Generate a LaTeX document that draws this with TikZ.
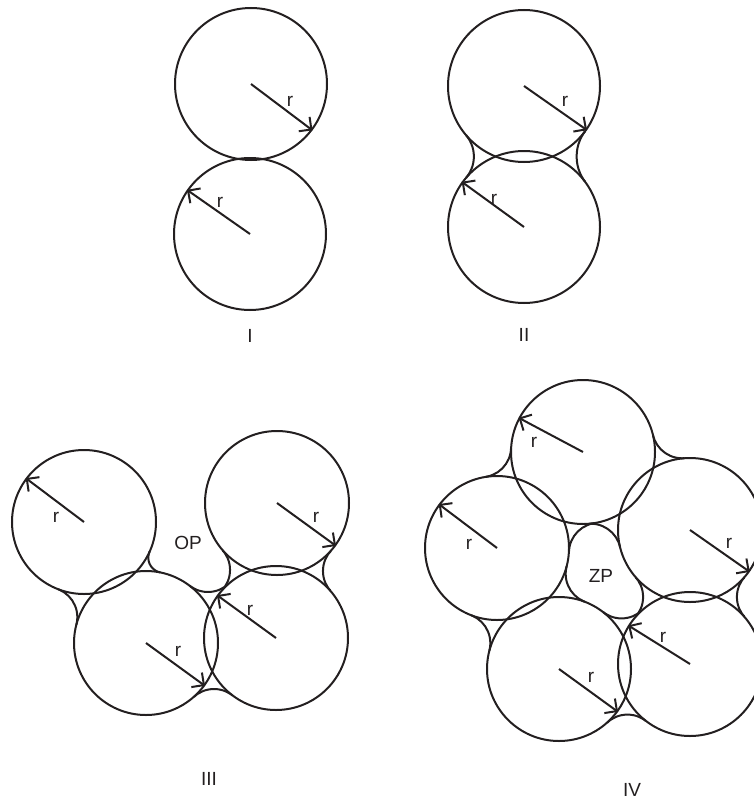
\documentclass[tikz,border=0pt]{standalone}
\usepackage{fontspec}
\setmainfont{Liberation Sans}
\usetikzlibrary{arrows.meta}
\usetikzlibrary{calc}

\definecolor{ink}{RGB}{35,31,32}
\def\bigr{76}
% concave bridge between two touching balls: #1,#2 balls, #3 radius, #4 side (1 or -1)
\newcommand\bridge[4]{%
	\path let \p1=(#1.center), \p2=(#2.center),
		\n1={veclen(\x2-(\x1),\y2-(\y1))},
		\n2={sqrt((\bigr+#3-\n1/2)*(\bigr+#3+\n1/2))} in
		coordinate (fc) at ({(\x1+\x2)/2-(#4)*\n2/\n1*(\y2-(\y1))},
		                    {(\y1+\y2)/2+(#4)*\n2/\n1*(\x2-(\x1))});
	\begin{scope}
		\clip (#1.center) -- (#2.center) -- (fc) -- cycle;
		\draw (fc) circle[radius=#3pt];
	\end{scope}}

\begin{document}
\begin{tikzpicture}[x=1pt, y=-1pt, line width=2pt, color=ink,
	ball/.style={draw, circle, inner sep=0pt, minimum size={2pt*\bigr}},
	rad/.style={-{Straight Barb[length=9pt, width=18pt]}},
	lab/.style={font=\fontsize{19}{21}\selectfont, inner sep=0pt}]
	\useasboundingbox (0,0) rectangle (754,800);
	% I
	\def\bigr{76}
	\node[ball] (a1) at (251,84) {};
	\node[ball] (a2) at (250,234) {};
	\draw[rad] (a1.center) -- (a1.-37);
	\draw[rad] (a2.center) -- (a2.145);
	\node[lab] (ra1) at (290,101) {r};
	\node[lab] (ra2) at (220,202) {r};
	\node[lab] (t1) at (250,336) {I};
	% II
	\node[ball] (b1) at (524,86) {};
	\node[ball] (b2) at (524,227) {};
	\bridge{b1}{b2}{42}{1}
	\bridge{b1}{b2}{33}{-1}
	\draw[rad] (b1.center) -- (b1.-35.5);
	\draw[rad] (b2.center) -- (b2.144);
	\node[lab] (rb1) at (565,101) {r};
	\node[lab] (rb2) at (494,199) {r};
	\node[lab] (t2) at (524,335) {II};
	% III
	\def\bigr{72}
	\node[ball] (c1) at (84,522) {};
	\node[ball] (c2) at (277,503) {};
	\node[ball] (c3) at (146,643) {};
	\node[ball] (c4) at (276,638) {};
	\bridge{c1}{c3}{15}{1}
	\bridge{c1}{c3}{30}{-1}
	\bridge{c3}{c4}{30}{1}
	\bridge{c3}{c4}{30}{-1}
	\bridge{c4}{c2}{30}{1}
	\bridge{c4}{c2}{30}{-1}
	\draw[rad] (c1.center) -- (c1.143);
	\draw[rad] (c2.center) -- (c2.-36.5);
	\draw[rad] (c3.center) -- (c3.-36);
	\draw[rad] (c4.center) -- (c4.144);
	\node[lab] (rc1) at (56,517) {r};
	\node[lab] (rc2) at (316,517) {r};
	\node[lab] (rc3) at (178,651) {r};
	\node[lab] (rc4) at (250,610) {r};
	\node[lab] (op) at (188,543) {OP};
	\node[lab] (t3) at (209,779) {III};
	% IV
	\node[ball] (d1) at (583,452) {};
	\node[ball] (d2) at (497,548) {};
	\node[ball] (d3) at (559,669) {};
	\node[ball] (d4) at (690,664) {};
	\node[ball] (d5) at (690,530) {};
	\foreach \u/\v in {d1/d2, d2/d3, d3/d4, d4/d5, d5/d1} {
		\bridge{\u}{\v}{30}{1}
		\bridge{\u}{\v}{30}{-1}
	}
	\draw[rad] (d1.center) -- (d1.152);
	\draw[rad] (d2.center) -- (d2.143);
	\draw[rad] (d3.center) -- (d3.-36);
	\draw[rad] (d4.center) -- (d4.148);
	\draw[rad] (d5.center) -- (d5.-35.6);
	\node[lab] (rd1) at (534,442) {r};
	\node[lab] (rd2) at (469,544) {r};
	\node[lab] (rd3) at (591,677) {r};
	\node[lab] (rd4) at (663,637) {r};
	\node[lab] (rd5) at (729,543) {r};
	\node[lab] (zp) at (601,576) {ZP};
	\node[lab] (t4) at (632,790) {IV};
\end{tikzpicture}
\end{document}
